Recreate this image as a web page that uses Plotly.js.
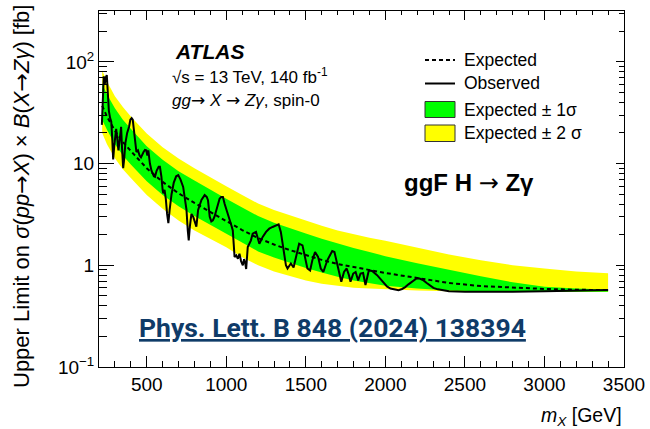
<!DOCTYPE html>
<html>
<head>
<meta charset="utf-8">
<script src="https://cdn.plot.ly/plotly-3.0.1.min.js"></script>
<style>html,body{margin:0;padding:0;background:#fff;}#plot{width:650px;height:429px;}</style>
</head>
<body>
<div id="plot"></div>
<script>
// Expected limit and bands [fb]
const expMass  = [220,250,300,350,400,500,600,700,800,900,1000,1100,1200,1300,1400,1500,1600,1700,1800,1900,2000,2200,2400,2600,2800,3000,3200,3400];
const expLimit = [37,29,21,16.3,13.3,9.0,6.6,5.1,4.1,3.35,2.75,2.22,1.85,1.6,1.41,1.26,1.13,1.03,0.96,0.9,0.84,0.75,0.67,0.625,0.6,0.585,0.575,0.57];
const minus2   = [20,15.5,11.3,8.8,7.2,4.9,3.6,2.75,2.2,1.8,1.5,1.2,1.0,0.87,0.78,0.71,0.66,0.625,0.6,0.59,0.58,0.565,0.555,0.55,0.547,0.545,0.545,0.545];
const minus1   = [27,21.5,15.5,12,9.8,6.7,4.9,3.8,3.05,2.5,2.05,1.65,1.37,1.19,1.05,0.94,0.85,0.77,0.71,0.67,0.63,0.59,0.565,0.555,0.552,0.55,0.549,0.548];
const plus1    = [61,48,35,27,22,14.8,10.9,8.4,6.8,5.5,4.5,3.7,3.05,2.62,2.3,2.05,1.82,1.63,1.48,1.35,1.23,1.05,0.9,0.78,0.68,0.615,0.59,0.578];
const plus2    = [82,64,46,36,29,19.8,14.5,11.2,9.0,7.4,6.0,4.9,4.05,3.5,3.1,2.75,2.45,2.2,2.02,1.87,1.74,1.48,1.28,1.12,1.0,0.93,0.87,0.835];

// Observed limit [fb]
const obsMass = [218,224,230,236,242,249,256,262,270,277,283,289,296,302,308,316,322,330,339,345,352,358,366,377,389,397,405,412,420,427,435,445,455,464,472,480,489,497,504,510,520,530,545,552,562,575,583,592,600,604,612,620,628,636,644,656,670,685,698,712,729,739,750,758,764,771,781,792,803,812,823,835,844,864,877,885,896,906,916,926,937,948,958,968,979,990,1000,1010,1021,1031,1041,1047,1052,1063,1073,1083,1093,1104,1112,1119,1125,1135,1145,1155,1166,1187,1208,1229,1250,1270,1291,1312,1329,1343,1360,1375,1385,1406,1423,1437,1458,1479,1500,1510,1527,1541,1558,1577,1594,1610,1635,1666,1680,1708,1723,1740,1757,1771,1781,1798,1813,1829,1844,1860,1875,1896,1917,1948,1970,1990,2010,2032,2060,2083,2105,2125,2145,2166,2185,2198,2215,2240,2260,2280,2302,2330,2360,2400,2500,2600,2800,3000,3200,3400];
const obsLimit = [24,59,72,60,70,74,48,33,28,26,18,11,15,18,22,17,13.5,17,23,14,9,11,16,20,23,27,28,27,21,15,13,13.5,12,11.5,12.5,13,13.6,13.5,12,13.5,10,8.5,7.5,7.4,8.5,9.3,9.3,7.5,5.5,5.1,5.5,4.5,3.2,2.6,3.5,5,6.5,7.5,7.7,7,5.9,4.4,3.5,2.2,1.76,2.4,3.2,3.0,2.6,2.4,3.5,4.1,4.4,4.9,4.7,4.36,3.0,2.7,2.77,3.0,3.5,4.1,4.5,4.7,4.7,4.0,3.5,3.1,2.8,2.5,2.2,1.6,1.21,1.25,1.16,1.3,1.1,1.0,1.15,1.05,0.92,1.51,1.65,1.76,2.05,2.13,1.63,1.9,2.13,2.29,2.38,2.47,2.53,2.13,1.40,1.0,0.93,1.04,0.95,1.21,1.63,1.57,1.12,0.93,0.89,1.12,1.35,1.21,0.93,0.86,1.12,1.38,1.35,0.89,0.69,0.86,0.93,0.80,0.69,0.83,0.86,0.71,0.83,0.84,0.64,0.89,0.88,0.80,0.73,0.66,0.62,0.59,0.575,0.57,0.585,0.61,0.65,0.69,0.73,0.745,0.74,0.71,0.67,0.63,0.60,0.58,0.565,0.555,0.55,0.548,0.55,0.557,0.567,0.572];

// Tick labels
const xTickVals = [500,1000,1500,2000,2500,3000,3500];
const xTickText = ['500','1000','1500','2000','2500','3000','3500'];
const yTickVals = [0.1,1,10,100];
const yTickText = ['10<sup>\u22121</sup>','1','10','10<sup>2</sup>'];

const yMinor = [];
[0.1,1,10,100].forEach(d => { for (let k=2;k<=9;k++) { if (d*k < 320) yMinor.push(d*k); } });

const FONT = 'Liberation Sans, Arial, Helvetica, sans-serif';
const ARR = '<span style="font-family:DejaVu Sans;font-weight:normal">\u2192</span>';

const traces = [
  {x: expMass, y: minus2, mode:'lines', line:{width:0, color:'#ffff00'}, hoverinfo:'skip', showlegend:false},
  {x: expMass, y: plus2, mode:'lines', fill:'tonexty', fillcolor:'#ffff00', line:{width:0, color:'#ffff00'}, hoverinfo:'skip', showlegend:false},
  {x: expMass, y: minus1, mode:'lines', line:{width:0, color:'#00ff00'}, hoverinfo:'skip', showlegend:false},
  {x: expMass, y: plus1, mode:'lines', fill:'tonexty', fillcolor:'#00ff00', line:{width:0, color:'#00ff00'}, hoverinfo:'skip', showlegend:false},
  {x: expMass, y: expLimit, mode:'lines', line:{color:'#000', width:2, dash:'4px,3px'}, showlegend:false},
  {x: obsMass, y: obsLimit, mode:'lines', line:{color:'#000', width:2}, showlegend:false},
  {x: [], y: [], xaxis:'x2', yaxis:'y2', mode:'lines', showlegend:false}
];

const L = 99, R = 624, T = 11, B = 367;
const px = v => (v - L) / (R - L);
const py = v => (B - v) / (B - T);

const ann = (x, y, text, size, opts) => Object.assign({
  xref:'paper', yref:'paper', x: px(x), y: py(y), text: text, showarrow:false,
  xanchor:'left', yanchor:'middle', font:{family:FONT, size:size, color:'#000'}
}, opts || {});

const layout = {
  width:650, height:429,
  margin:{l:L, r:650-R, t:T, b:429-B},
  paper_bgcolor:'#fff', plot_bgcolor:'#fff',
  showlegend:false,
  xaxis:{type:'linear', range:[200,3500], showline:true, linecolor:'#000', linewidth:1,
    ticks:'inside', ticklen:11, tickwidth:1, tickcolor:'#000',
    tickmode:'array', tickvals:xTickVals, ticktext:xTickText,
    minor:{ticks:'inside', ticklen:6, tickwidth:1, tickcolor:'#000', dtick:100, tick0:0, showgrid:false},
    showgrid:false, zeroline:false, tickfont:{family:FONT, size:19, color:'#000'}},
  yaxis:{type:'log', range:[-1,2.5], showline:true, linecolor:'#000', linewidth:1,
    ticks:'inside', ticklen:15, tickwidth:1, tickcolor:'#000',
    tickmode:'array', tickvals:yTickVals, ticktext:yTickText,
    minor:{ticks:'inside', ticklen:8, tickwidth:1, tickcolor:'#000', tickmode:'array', tickvals:yMinor, showgrid:false},
    showgrid:false, zeroline:false, tickfont:{family:FONT, size:19, color:'#000'}},
  xaxis2:{type:'linear', range:[200,3500], overlaying:'x', side:'top', anchor:'y2', showline:true, linecolor:'#000', linewidth:1,
    ticks:'inside', ticklen:9, tickwidth:1, tickcolor:'#000', tickmode:'array', tickvals:xTickVals, showticklabels:false,
    minor:{ticks:'inside', ticklen:4, tickwidth:1, tickcolor:'#000', dtick:100, tick0:0, showgrid:false},
    showgrid:false, zeroline:false},
  yaxis2:{type:'log', range:[-1,2.5], overlaying:'y', side:'right', anchor:'x2', showline:true, linecolor:'#000', linewidth:1,
    ticks:'inside', ticklen:8, tickwidth:1, tickcolor:'#000', tickmode:'array', tickvals:yTickVals, showticklabels:false,
    minor:{ticks:'inside', ticklen:5, tickwidth:1, tickcolor:'#000', tickmode:'array', tickvals:yMinor, showgrid:false},
    showgrid:false, zeroline:false},
  shapes:[
    {type:'line', xref:'paper', yref:'paper', x0:px(425), x1:px(455), y0:py(60), y1:py(60), line:{color:'#000', width:2, dash:'4px,3px'}},
    {type:'line', xref:'paper', yref:'paper', x0:px(425), x1:px(455), y0:py(83.5), y1:py(83.5), line:{color:'#000', width:2}},
    {type:'rect', xref:'paper', yref:'paper', x0:px(425), x1:px(455), y0:py(117.5), y1:py(101.5), fillcolor:'#00ff00', line:{color:'#333', width:1}},
    {type:'rect', xref:'paper', yref:'paper', x0:px(425), x1:px(455), y0:py(141.5), y1:py(125), fillcolor:'#ffff00', line:{color:'#333', width:1}}
  ],
  annotations:[
    ann(173, 51, '<b><i>ATLAS</i></b>', 21),
    ann(170, 76.5, '\u221As = 13 TeV, 140 fb<sup>-1</sup>', 17),
    ann(170, 100, '<i>gg</i>' + ARR + ' <i>X</i> ' + ARR + ' <i>Z\u03B3</i>, spin-0', 17),
    ann(462, 60, 'Expected', 17.5),
    ann(462, 83.5, 'Observed', 17.5),
    ann(462, 109.5, 'Expected \u00B1 1\u03C3', 17.5),
    ann(462, 133, 'Expected \u00B1 2 \u03C3', 17.5),
    ann(402, 183, '<b>ggF H ' + ARR + ' Z\u03B3</b>', 24),
    ann(137, 327, '<b><u>Phys. Lett. B 848 (2024) 138394</u></b>', 26.5, {font:{family:'Roboto, sans-serif', size:26.5, color:'#0f3b68'}}),
    ann(624, 416, '<i>m<sub>X</sub></i> [GeV]', 19.5, {xanchor:'right'}),
    ann(21, 197, 'Upper Limit on <i>\u03C3</i>(<i>pp</i>' + ARR + '<i>X</i>) \u00D7 <i>B</i>(<i>X</i>' + ARR + '<i>Z\u03B3</i>) [fb]', 22, {xanchor:'center', textangle:-90})
  ]
};

Plotly.newPlot('plot', traces, layout, {staticPlot:true, displayModeBar:false});
</script>
</body>
</html>
